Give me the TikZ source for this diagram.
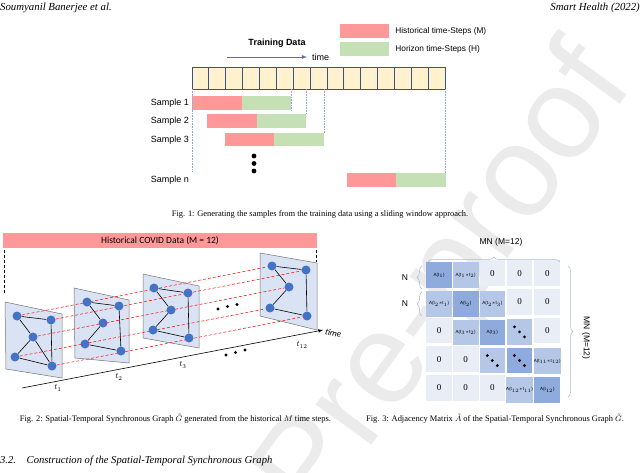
\documentclass[tikz,border=0pt]{standalone}
\usepackage{fontspec}
\setmainfont{Liberation Serif}
\setsansfont{Liberation Sans}
\newfontfamily\calib{Carlito}
\usetikzlibrary{positioning}
\usetikzlibrary{matrix, decorations.pathreplacing}

\definecolor{histred}{HTML}{FF9999}
\definecolor{horgreen}{HTML}{C5E0B4}
\definecolor{cellyel}{HTML}{FFF2CC}
\definecolor{celledge}{HTML}{2F5597}
\definecolor{guideblue}{HTML}{8FAADC}
\definecolor{nodeblue}{HTML}{4472C4}
\definecolor{planefill}{HTML}{DAE3F3}
\definecolor{adjdark}{HTML}{8FAADC}
\definecolor{adjmid}{HTML}{B4C7E7}
\definecolor{adjlight}{HTML}{E9EDF6}
\definecolor{bracegray}{HTML}{A9B9D6}

\newcommand{\At}[1]{A(t$_{#1}$)}
\newcommand{\Att}[2]{A(t$_{#1}{\ast}$t$_{#2}$)}

\pgfdeclarelayer{bg}
\pgfsetlayers{bg,main}

\tikzset{
  figcap/.style={font=\fontsize{8.45}{9}\selectfont, inner sep=0},
  samp/.style={font=\sffamily\fontsize{9}{10}\selectfont, anchor=east, inner sep=0},
  legtext/.style={font=\sffamily\fontsize{8.3}{9}\selectfont, inner sep=0, anchor=west},
  legbox/.style={minimum width=49pt, minimum height=14pt, inner sep=0},
  cell/.style={fill=cellyel, draw=celledge, line width=0.8pt},
  guide/.style={guideblue, densely dotted, line width=0.6pt},
  plane/.style={fill=planefill, draw=gray!90!black, line width=0.5pt},
  gnode/.style={circle, fill=nodeblue, inner sep=0, minimum size=9pt},
  gedge/.style={black, line width=0.6pt},
  tlink/.style={red, densely dashed, line width=0.5pt},
  tlab/.style={font=\fontsize{8}{9}\selectfont, inner sep=0},
  brc/.style={decorate, decoration={brace, amplitude=5pt}, bracegray, line width=0.5pt},
  dk/.style={fill=adjdark, font=\sffamily\fontsize{4.5}{5}\selectfont},
  md/.style={fill=adjmid, font=\sffamily\fontsize{4.5}{5}\selectfont},
}

\begin{document}
\begin{tikzpicture}[x=1pt, y=-1pt]
\useasboundingbox (0,0) rectangle (640,472);

% watermark
\begin{pgfonlayer}{bg}
\node[rotate=54, text=black!8, font=\sffamily\fontsize{130}{130}\selectfont] (wm) at (448,284) {Pre-proof};
\end{pgfonlayer}

% header
\node[anchor=west, inner sep=0, font=\itshape\fontsize{10.8}{11}\selectfont] (hl) at (0,8) {Soumyanil Banerjee et al.};
\node[anchor=east, inner sep=0, font=\itshape\fontsize{10.8}{11}\selectfont] (hr) at (640,8) {Smart Health (2022)};

% Fig. 1
\node[legbox, fill=histred] (lh) at (364.5,31) {};
\node[legtext, right=6pt of lh] (lht) {Historical time-Steps (M)};
\node[legbox, fill=horgreen] (lg) at (364.5,49) {};
\node[legtext, right=6pt of lg] (lgt) {Horizon time-Steps (H)};

\node[inner sep=0, font=\sffamily\bfseries\fontsize{9}{10}\selectfont] (td) at (277,43) {Training Data};
\coordinate (arrA) at (227,57);
\coordinate (arrB) at (307,57);
\draw[nodeblue, line width=0.8pt, -latex] (arrA) -- (arrB);
\node[legtext, font=\sffamily\fontsize{9}{10}\selectfont, right=5pt of arrB] (tm) {time};

\foreach \i in {0,...,14}
  \draw[cell] ({192+16.867*\i},67) rectangle ++(16.867,22);

\node[samp] (s1) at (189,103) {Sample 1};
\node[samp] (s2) at (189,121) {Sample 2};
\node[samp] (s3) at (189,140) {Sample 3};
\node[samp] (sn) at (189,180) {Sample n};

\fill[histred] (192,96) rectangle (242,110);
\fill[horgreen] (242,96) rectangle (291,110);
\fill[histred] (207,114) rectangle (257,128);
\fill[horgreen] (257,114) rectangle (306,128);
\fill[histred] (225,133) rectangle (274,146);
\fill[horgreen] (274,133) rectangle (324,146);
\fill[histred] (347,173) rectangle (396,187);
\fill[horgreen] (396,173) rectangle (446,187);

\draw[guide] (192,89) -- (192,172);
\draw[guide] (291,89) -- (291,110);
\draw[guide] (306,89) -- (306,114);
\draw[guide] (324,89) -- (324,133);
\draw[guide] (445,89) -- (445,173);

\foreach \y in {156,163.5,171}
  \fill (254,\y) circle (2.4);

\node[figcap] (cap1) at (320,214) {Fig. 1: Generating the samples from the training data using a sliding window approach.};

% Fig. 2
\node[fill=histred, minimum width=314pt, minimum height=15pt, inner sep=0, font=\calib\fontsize{9.5}{10}\selectfont] (hist) at (160,240.5) {Historical COVID Data (M = 12)};
\draw[densely dashed, line width=0.5pt] (4,250) -- (4,293);
\draw[densely dashed, line width=0.5pt] (316,250) -- (316,262);

\coordinate (ax0) at (22,388);
\coordinate (ax1) at (323,330);
\draw[line width=0.6pt, -latex] (ax0) -- (ax1);
\node[anchor=west, inner sep=1pt, rotate=-12, font=\calib\itshape\fontsize{9}{10}\selectfont] (tt) at (324,331) {time};

\foreach \n/\x/\y in {1/17/316, 2/51/320, 3/33/337, 4/15/357, 5/52/366}
  \node[gnode] (a\n) at (\x,\y) {};
\foreach \n/\x/\y in {1/87/302, 2/119/306, 3/103/323, 4/85/344, 5/121/351}
  \node[gnode] (b\n) at (\x,\y) {};
\foreach \n/\x/\y in {1/154/288, 2/188/293, 3/171/310, 4/153/330, 5/189/338}
  \node[gnode] (c\n) at (\x,\y) {};
\foreach \n/\x/\y in {1/272/266, 2/306/270, 3/289/287, 4/270/308, 5/307/316}
  \node[gnode] (d\n) at (\x,\y) {};

\begin{pgfonlayer}{bg}
\draw[plane] (5,302) -- (62,314) -- (62,378) -- (6,369) -- cycle;
\draw[plane] (74,288) -- (129,300) -- (129,363) -- (75,358) -- cycle;
\draw[plane] (143,274) -- (199,286) -- (199,348) -- (143,338) -- cycle;
\draw[plane] (260,253) -- (317,263) -- (317,330) -- (260,316) -- cycle;
\foreach \i in {1,...,5}
  \draw[tlink] (a\i) -- (d\i);
\foreach \p in {a,b,c,d}
  \draw[gedge] (\p1) -- (\p2) (\p1) -- (\p3) (\p2) -- (\p5) (\p3) -- (\p4) (\p4) -- (\p5);
\draw[gedge] (a3) -- (a5);
\end{pgfonlayer}

\foreach \x/\y in {218/309, 227.5/306.5, 237/304.5, 226/355, 235.5/352.5, 245/350}
  \fill (\x,\y) circle (1.7);

\node[tlab] (lt1) at (58,388) {$t_{1}$};
\node[tlab] (lt2) at (119,377) {$t_{2}$};
\node[tlab] (lt3) at (183,365) {$t_{3}$};
\node[tlab] (lt12) at (302,345) {$t_{12}$};

\node[figcap] (cap2) at (175.5,419) {Fig. 2: Spatial-Temporal Synchronous Graph $\tilde{G}$ generated from the historical $M$ time steps.};

% Fig. 3
\matrix (adj) [matrix of nodes, row sep=1pt, column sep=1pt,
  nodes={minimum width=25.6pt, minimum height=25.6pt, inner sep=0, fill=adjlight, font=\fontsize{9}{10}\selectfont}] at (493.5,331.5) {
  |[dk]| \At{1} & |[md]| \Att{1}{2} & 0 & 0 & 0 \\
  |[md]| \Att{2}{1} & |[dk]| \At{2} & |[md]| \Att{2}{3} & 0 & 0 \\
  0 & |[md]| \Att{3}{2} & |[dk]| \At{3} & |[md]| \phantom{0} & 0 \\
  0 & 0 & |[md]| \phantom{0} & |[dk]| \phantom{0} & |[md]| \Att{11}{12} \\
  0 & 0 & 0 & |[md]| \Att{12}{11} & |[dk]| \At{12} \\
};
\foreach \c in {adj-3-4, adj-4-3, adj-4-4}
  \foreach \s in {-5,0,5}
    \fill ([shift={(\s,\s)}]\c.center) circle (1.6);

\draw[brc] (428,262) -- (560,262);
\node[inner sep=0, font=\sffamily\fontsize{8.5}{9}\selectfont] (mnt) at (501,242) {MN (M=12)};
\draw[brc] (422,289) -- (422,266);
\draw[brc] (422,316) -- (422,292);
\node[inner sep=0, font=\sffamily\fontsize{8.5}{9}\selectfont] (nr1) at (405,278) {N};
\node[inner sep=0, font=\sffamily\fontsize{8.5}{9}\selectfont] (nr2) at (405,304) {N};
\draw[brc] (568,266) -- (568,397);
\node[inner sep=0, rotate=-90, font=\sffamily\fontsize{8.5}{9}\selectfont] (mnr) at (586,338) {MN (M=12)};

\node[figcap] (cap3) at (495,419) {Fig. 3: Adjacency Matrix $\tilde{A}$ of the Spatial-Temporal Synchronous Graph $\tilde{G}$.};

% section heading
\node[anchor=west, inner sep=0, font=\itshape\fontsize{10.6}{11}\selectfont] (sec) at (0,461) {3.2.\quad Construction of the Spatial-Temporal Synchronous Graph};

\end{tikzpicture}
\end{document}
